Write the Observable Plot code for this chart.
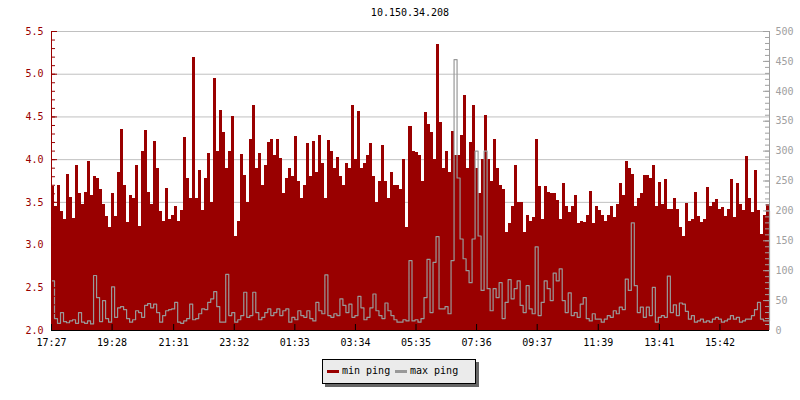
<!DOCTYPE html>
<html>
<head>
<meta charset="utf-8">
<script src="https://cdn.jsdelivr.net/npm/d3@7"></script>
<script src="https://cdn.jsdelivr.net/npm/@observablehq/plot@0.6"></script>
<style>
  html, body { margin: 0; padding: 0; background: #fff; }
  body { position: relative; width: 800px; height: 400px; font-family: "DejaVu Sans Mono", monospace; font-size: 10px; }
  #title { position: absolute; top: 7px; left: 410px; transform: translateX(-50%); line-height: 12px; color: #000; white-space: nowrap; }
  #legend { position: absolute; left: 322px; top: 359px; width: 154px; height: 25px; box-sizing: border-box; border: 1px solid #000; background: #ebebeb; box-shadow: 3px 3px 0 #666; }
  #legend .sw { position: absolute; top: 10px; width: 12px; height: 3px; }
  #legend .lb { position: absolute; top: 5px; line-height: 12px; white-space: nowrap; color: #000; }
</style>
</head>
<body>
<div id="chart"></div>
<div id="title"></div>
<div id="legend"></div>
<script>
const title = "10.150.34.208";
const seriesNames = ["min ping", "max ping"];
const seriesColors = ["#990000", "#999999"];
const startTime = "17:27";
const stepMinutes = 6;
const xTickLabels = ["17:27","19:28","21:31","23:32","01:33","03:34","05:35","07:36","09:37","11:39","13:41","15:42"];
const leftTicks = [2.0, 2.5, 3.0, 3.5, 4.0, 4.5, 5.0, 5.5];
const rightTicks = [0, 50, 100, 150, 200, 250, 300, 350, 400, 450, 500];

// min ping (left axis, ms), one value per 6-minute step
const minPing = [
  3.68,3.45,3.70,3.39,3.30,3.83,3.56,3.31,3.93,3.60,
  3.47,3.62,3.98,3.58,3.80,3.78,3.65,3.47,3.33,3.20,
  3.60,3.33,3.85,4.35,3.70,3.26,3.58,3.55,3.93,3.22,
  4.10,4.34,3.62,3.47,4.21,3.90,3.39,3.28,3.66,3.30,
  3.35,3.45,3.28,3.40,4.26,3.78,3.55,5.19,3.55,3.87,
  3.40,3.78,4.07,3.50,4.95,4.10,4.57,4.32,3.90,4.10,
  4.50,3.10,3.28,4.06,3.82,3.50,4.24,4.63,3.90,4.07,
  3.70,3.93,4.20,4.24,4.05,4.24,4.01,3.60,3.78,3.90,
  3.80,4.27,3.75,3.55,3.70,4.19,3.80,4.21,3.85,4.28,
  3.95,3.55,4.22,4.10,3.90,4.02,3.80,3.70,3.95,3.90,
  4.63,4.00,4.56,3.90,3.95,4.05,4.19,3.80,3.50,3.75,
  4.17,3.75,3.55,3.85,3.70,3.70,3.65,4.00,3.20,4.39,
  4.10,4.08,4.05,3.75,4.55,4.41,4.32,4.00,5.35,4.44,
  3.90,4.09,3.85,4.33,4.05,4.05,4.28,4.75,3.90,4.20,
  4.63,3.90,3.60,4.00,4.52,4.00,3.75,4.24,3.90,3.70,
  3.65,3.15,3.25,3.45,3.93,3.50,3.50,3.15,3.35,3.28,
  3.32,4.24,3.69,3.30,3.69,3.62,3.60,3.60,3.52,3.30,
  3.72,3.45,3.38,3.45,3.58,3.25,3.28,3.27,3.35,3.63,
  3.25,3.45,3.40,3.35,3.28,3.35,3.45,3.32,3.48,3.72,
  3.58,3.98,3.90,3.83,3.45,3.55,3.60,3.82,3.82,3.78,
  3.93,3.45,3.73,3.47,3.77,3.42,3.42,3.55,3.42,3.20,
  3.10,3.49,3.28,3.30,3.62,3.33,3.27,3.30,3.67,3.45,
  3.50,3.53,3.42,3.44,3.33,3.42,3.77,3.32,3.72,3.47,
  3.40,4.04,3.55,3.38,3.87,3.40,3.12,3.35,3.47
];

// max ping (right axis, ms), one value per 6-minute step
const maxPing = [
  83,20,12,30,15,13,16,18,12,30,14,12,16,11,92,55,15,50,20,14,
  73,22,38,40,35,20,14,18,33,30,22,42,45,38,44,30,14,25,33,35,
  36,47,14,12,16,20,44,18,20,28,36,35,47,53,65,40,14,14,94,25,
  30,14,18,25,64,22,25,64,30,18,22,30,36,25,30,36,25,33,36,14,
  22,18,33,25,22,33,20,16,47,33,28,93,25,22,28,25,53,42,30,44,
  22,25,57,38,18,22,38,61,33,25,20,46,33,25,18,14,14,18,16,117,
  16,18,14,20,55,119,30,114,157,36,36,40,28,117,453,255,153,120,100,80,
  153,300,158,67,300,70,33,70,55,80,20,47,85,53,70,83,42,30,75,36,
  28,140,25,47,83,70,50,96,83,103,50,30,63,25,30,22,44,55,20,16,
  28,19,19,14,19,25,22,33,28,39,35,86,67,180,75,30,39,22,39,25,
  72,14,22,25,22,91,30,43,25,46,44,32,19,25,14,16,19,14,16,14,
  19,22,19,14,16,19,25,19,22,14,16,19,19,25,35,47,19,16,16,200
];

// ---- derived values ----
const yMin = leftTicks[0], yMax = leftTicks[leftTicks.length - 1];
const rMax = rightTicks[rightTicks.length - 1];
const toLeft = v => yMin + v / rMax * (yMax - yMin);
const parseHM = s => { const [h, m] = s.split(":").map(Number); return h * 60 + m; };
const t0 = parseHM(startTime);
const tickMinutes = xTickLabels.map(s => ((parseHM(s) - t0) % 1440 + 1440) % 1440);
const labelOf = new Map(tickMinutes.map((m, i) => [m, xTickLabels[i]]));
const xEnd = minPing.length * stepMinutes;

const redData = minPing.map((v, i) => ({t: i * stepMinutes, v}));
redData.push({t: xEnd, v: minPing[minPing.length - 1]});
const greyData = maxPing.map((v, i) => ({t: i * stepMinutes, y: toLeft(v)}));

const leftMinor = d3.range(Math.round(yMin * 10), Math.round(yMax * 10) + 1).map(d => d / 10);
const rightMinor = d3.range(0, rMax + 1, 10).map(toLeft);
const rightMajor = rightTicks.map(toLeft);

const W = 800, H = 400, mL = 51, mR = 31, mT = 31, mB = 70;
const plotW = W - mL - mR, plotH = H - mT - mB;

const chart = Plot.plot({
  width: W, height: H,
  marginLeft: mL, marginRight: mR, marginTop: mT, marginBottom: mB,
  style: {fontFamily: "DejaVu Sans Mono", fontSize: "10px", background: "#fff", overflow: "visible"},
  x: {domain: [0, xEnd], axis: null},
  y: {domain: [yMin, yMax], axis: null},
  marks: [
    Plot.gridY(leftTicks, {stroke: "#c0c0c0", strokeOpacity: 1}),
    Plot.areaY(redData, {x: "t", y1: yMin, y2: "v", curve: "step-after", fill: seriesColors[0], shapeRendering: "crispEdges"}),
    Plot.line(greyData, {x: "t", y: "y", curve: "step-after", stroke: seriesColors[1], strokeWidth: 1.2}),
    // left axis (red)
    Plot.ruleX([0], {stroke: "#990000"}),
    Plot.ruleY(leftMinor, {stroke: "#990000", insetRight: plotW - 4}),
    Plot.ruleY(leftTicks, {stroke: "#990000", insetRight: plotW - 6}),
    Plot.axisY(leftTicks, {anchor: "left", tickSize: 0, tickPadding: 8, tickFormat: d => d.toFixed(1), color: "#990000", fill: "#990000", label: null}),
    // right axis (grey)
    Plot.ruleX([xEnd], {stroke: "#a0a0a0"}),
    Plot.ruleY(rightMinor, {stroke: "#a0a0a0", insetLeft: plotW - 4}),
    Plot.ruleY(rightMajor, {stroke: "#a0a0a0", insetLeft: plotW - 6}),
    Plot.axisY(rightMajor, {anchor: "right", tickSize: 0, tickPadding: 6, tickFormat: d => String(Math.round((d - yMin) / (yMax - yMin) * rMax)), color: "#a0a0a0", fill: "#a0a0a0", label: null}),
    // bottom axis
    Plot.ruleY([yMin], {stroke: "#000"}),
    Plot.ruleX(tickMinutes, {stroke: "#000", insetTop: plotH - 6}),
    Plot.axisX(tickMinutes, {anchor: "bottom", tickSize: 0, tickPadding: 8, tickFormat: d => labelOf.get(d), color: "#000", label: null})
  ]
});
document.getElementById("chart").appendChild(chart);
document.getElementById("title").textContent = title;

const legend = document.getElementById("legend");
const pos = [{sw: 4, lb: 19}, {sw: 72, lb: 87}];
seriesNames.forEach((name, i) => {
  const sw = document.createElement("div");
  sw.className = "sw"; sw.style.left = pos[i].sw + "px"; sw.style.background = seriesColors[i];
  const lb = document.createElement("div");
  lb.className = "lb"; lb.style.left = pos[i].lb + "px"; lb.textContent = name;
  legend.appendChild(sw); legend.appendChild(lb);
});
</script>
</body>
</html>
